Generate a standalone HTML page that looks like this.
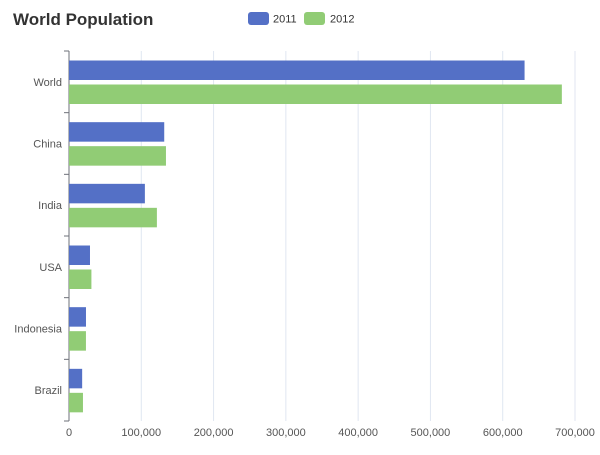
<!DOCTYPE html>
<html><head><meta charset="utf-8"><style>
body{margin:0;background:#fff;font-family:"Liberation Sans",Arial,sans-serif;}
svg text{font-family:"Liberation Sans",Arial,sans-serif;}
</style></head><body>
<svg id="c" width="600" height="450" xmlns="http://www.w3.org/2000/svg">
<text x="13" y="25" font-size="17" font-weight="bold" fill="#333">World Population</text>
<g><rect x="248" y="12" width="21" height="13" rx="3" fill="#5470c6"/><text x="273" y="22.5" font-size="11" fill="#333">2011</text></g>
<g><rect x="304" y="12" width="21" height="13" rx="3" fill="#91cc75"/><text x="330" y="22.5" font-size="11" fill="#333">2012</text></g>
<g id="plot"></g>
</svg>
<script>
const categories=["Brazil","Indonesia","USA","India","China","World"];
const values2011=[18203,23489,29034,104970,131744,630230];
const values2012=[19325,23438,31000,121594,134141,681807];
const xTicks=[0,100000,200000,300000,400000,500000,600000,700000];
const tickLabels=["0","100,000","200,000","300,000","400,000","500,000","600,000","700,000"];
const L=69,R=575,T=51,B=421,xMax=700000;
const NS="http://www.w3.org/2000/svg";
const g=document.getElementById('plot');
function x(v){return L+(R-L)*v/xMax;}
const band=(B-T)/categories.length;
function bandTop(i){return B-(i+1)*band;}
function mk(t,a){const e=document.createElementNS(NS,t);for(const k in a)e.setAttribute(k,a[k]);g.appendChild(e);return e;}
xTicks.forEach((v,i)=>{
 if(i>0){const l=mk('line',{x1:x(v),x2:x(v),y1:T,y2:B,stroke:'#E0E6F1'});
 
 }
 const t=mk('text',{x:x(v),y:B+15,'font-size':11,fill:'#555','text-anchor':'middle'});
 t.textContent=tickLabels[i];
 
 
});
const ax=mk('line',{x1:L,x2:L,y1:T,y2:B,stroke:'#6E7079'});


for(let i=0;i<=categories.length;i++){const y=B-i*band;const tk=mk('line',{x1:L-5,x2:L,y1:y,y2:y,stroke:'#6E7079'});
 
 }
const bw=19.5,gap=4.5;
categories.forEach((c,i)=>{
 const top=bandTop(i);
 const t=mk('text',{x:L-7,y:top+band/2+4,'font-size':11,fill:'#555','text-anchor':'end'});
 t.textContent=c;
 
 
 const b1=mk('rect',{x:L,y:top+9.5,width:x(values2011[i])-L,height:bw,fill:'#5470c6'});
 
 
 const b2=mk('rect',{x:L,y:top+9.5+bw+gap,width:x(values2012[i])-L,height:bw,fill:'#91cc75'});
 
 
});
</script>
</body></html>
